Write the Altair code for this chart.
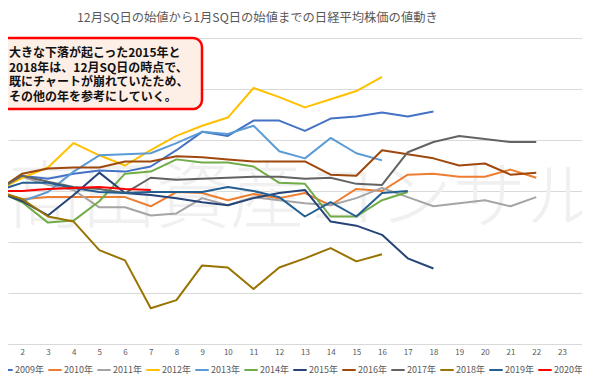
import altair as alt
import pandas as pd

FONT = "Noto Sans CJK JP"

title_text = "12月SQ日の始値から1月SQ日の始値までの日経平均株価の値動き"
note_lines = [
    "大きな下落が起こった2015年と",
    "2018年は、12月SQ日の時点で、",
    "既にチャートが崩れていたため、",
    "その他の年を参考にしていく。",
]
watermark = "高田資産コンサル"

years = ["2009年", "2010年", "2011年", "2012年", "2013年", "2014年",
         "2015年", "2016年", "2017年", "2018年", "2019年", "2020年"]
colors = ["#4472C4", "#ED7D31", "#A5A5A5", "#FFC000", "#5B9BD5", "#70AD47",
          "#264478", "#9E480E", "#636363", "#997300", "#255E91", "#FF0000"]
widths = [2, 2, 2, 2, 2, 2, 2, 2, 2, 2, 2, 4.5]

tick_labels = list(range(1, 25))

# change (%) from the December SQ opening price, per trading day
v2009 = [0, 1.5, 1.2, 1.7, 2.0, 1.9, 2.4, 4.0, 5.8, 5.4, 6.9, 6.9, 5.9, 7.1, 7.3, 7.7, 7.3, 7.8]
v2010 = [0, -0.8, -0.6, -0.6, -0.6, -0.6, -1.5, -0.1, -0.2, -0.9, -0.3, -0.7, -0.2, -1.4, 0.2, 0.0, 1.6, 1.7, 1.4, 1.4, 2.1, 1.3]
v2011 = [0, 1.4, 0.6, 0.1, -1.6, -1.6, -2.4, -2.2, -0.7, -1.4, -0.6, -0.9, -1.2, -1.4, -0.7, 0.3, -0.6, -1.5, -1.2, -0.9, -1.5, -0.6]
v2012 = [0, 1.3, 2.3, 4.7, 3.5, 2.5, 4.0, 5.4, 6.4, 7.2, 10.1, 9.2, 8.2, 9.0, 9.8, 11.2]
v2013 = [0, -1.0, -0.1, 1.9, 3.5, 3.6, 3.7, 4.7, 5.8, 5.6, 6.4, 3.9, 3.2, 5.2, 3.7, 3.0]
v2014 = [0, -1.1, -3.1, -2.9, -1.0, 1.7, 1.9, 3.1, 2.8, 2.8, 2.4, 0.8, 0.7, -2.5, -2.5, -0.9, -0.1]
v2015 = [0, -1.0, -2.4, -0.4, 1.8, -0.2, -0.4, -0.7, -1.1, -1.4, -0.7, -0.2, 0.1, -3.0, -3.4, -4.3, -6.6, -7.6]
v2016 = [0, 1.7, 2.2, 2.3, 2.3, 2.9, 2.9, 3.4, 3.3, 3.1, 2.9, 2.9, 2.9, 1.6, 1.5, 4.0, 3.6, 3.2, 2.5, 2.7, 1.6, 1.8]
v2017 = [0, 1.5, 0.9, 0.4, 0.2, -0.2, 1.3, 1.1, 1.2, 1.3, 1.4, 1.4, 1.2, 1.3, 0.7, 0.6, 3.8, 4.8, 5.4, 5.1, 4.8, 4.8]
v2018 = [0, -0.8, -2.5, -3.0, -5.8, -6.8, -11.5, -10.7, -7.3, -7.5, -9.6, -7.5, -6.6, -5.6, -6.9, -6.2]
v2019 = [0, 0.8, 0.8, 0.3, -0.1, -0.2, -0.1, -0.1, -0.1, 0.4, 0.0, -0.6, -2.5, -1.1, -2.5, -0.2, 0.0]
v2020 = [0, 0.0, 0.2, 0.3, 0.4, 0.2, 0.1]

series = [v2009, v2010, v2011, v2012, v2013, v2014, v2015, v2016, v2017, v2018, v2019, v2020]

rows = []
for yr, vals in zip(years, series):
    for i, v in enumerate(vals):
        rows.append({"year": yr, "day": i + 1, "value": v})
df = pd.DataFrame(rows)

x_enc = alt.X(
    "day:Q",
    scale=alt.Scale(domain=[1.447, 23.78], nice=False, zero=False),
    axis=alt.Axis(values=tick_labels, title=None, grid=False, ticks=False,
                  domainColor="#D9D9D9", domainWidth=1, labelFontSize=8,
                  labelColor="#595959", labelPadding=4, labelFont=FONT,
                  labelFlush=False),
)
y_enc = alt.Y(
    "value:Q",
    scale=alt.Scale(domain=[-15, 15], nice=False, zero=False),
    axis=alt.Axis(values=[-15, -10, -5, 0, 5, 10, 15], labels=False, ticks=False,
                  domain=False, title=None, gridColor="#D9D9D9", gridWidth=1),
)

legend = alt.Legend(
    title=None, orient="none", legendX=-10, legendY=324, direction="horizontal",
    columns=12, symbolType="stroke", symbolSize=180, labelFontSize=9,
    labelFont=FONT, labelColor="#595959", columnPadding=0, labelOffset=1,
)

lines = alt.Chart(df).mark_line(strokeJoin="round").encode(
    x=x_enc,
    y=y_enc,
    color=alt.Color("year:N", scale=alt.Scale(domain=years, range=colors), legend=legend),
    strokeWidth=alt.StrokeWidth("year:N", scale=alt.Scale(domain=years, range=widths), legend=legend),
)

wm = alt.Chart(pd.DataFrame({"t": [watermark]})).mark_text(
    fontSize=74, font=FONT, fontWeight=200, color="#F0F0F0", align="center", baseline="middle"
).encode(text="t:N", x=alt.value(296), y=alt.value(162))

box = alt.Chart(pd.DataFrame({"a": [1]})).mark_rect(
    fill="#FDEEE6", stroke="#FF0000", strokeWidth=2.5, cornerRadius=9
).encode(x=alt.value(-20), x2=alt.value(194), y=alt.value(0), y2=alt.value(71))

note = alt.Chart(pd.DataFrame({"t": ["\n".join(note_lines)]})).mark_text(
    fontSize=12, font=FONT, fontWeight="bold", color="#111111", align="left",
    baseline="middle", lineBreak="\n", lineHeight=14.7
).encode(text="t:N", x=alt.value(1), y=alt.value(15))

chart = alt.layer(wm, lines, box, note).properties(
    width=574,
    height=306,
    padding={"left": 0, "right": 0, "top": 30, "bottom": 36},
    autosize=alt.AutoSizeParams(type="none"),
    title=alt.TitleParams(title_text, fontSize=12.3, font=FONT, color="#595959",
                          fontWeight="normal", anchor="start", dx=69, frame="group",
                          baseline="alphabetic", offset=2),
).configure_view(stroke=None)

chart.save("out.html", embed_options={"renderer": "svg", "actions": False})
